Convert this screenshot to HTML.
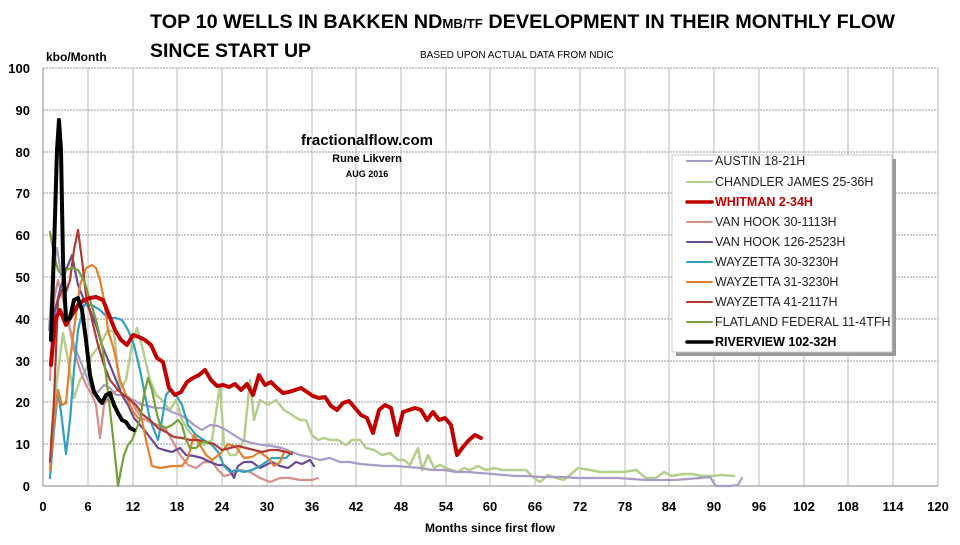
<!DOCTYPE html>
<html><head><meta charset="utf-8"><style>
body{margin:0;background:#fff;width:960px;height:540px;overflow:hidden;font-family:"Liberation Sans",sans-serif}
</style></head><body>
<svg width="960" height="540" xmlns="http://www.w3.org/2000/svg" font-family="Liberation Sans, sans-serif">
<text x="150" y="28" font-size="19.5" font-weight="bold" textLength="745" lengthAdjust="spacingAndGlyphs">TOP 10 WELLS IN BAKKEN ND<tspan font-size="13">MB/TF</tspan> DEVELOPMENT IN THEIR MONTHLY FLOW</text>
<text x="150" y="57" font-size="19.5" font-weight="bold">SINCE START UP</text>
<text x="420" y="58" font-size="10">BASED UPON ACTUAL DATA FROM  NDIC</text>
<text x="46" y="61" font-size="12" font-weight="bold">kbo/Month</text>
<g stroke="#bbb" stroke-width="1">
<line x1="88" y1="68" x2="88" y2="486"/><line x1="133" y1="68" x2="133" y2="486"/><line x1="177" y1="68" x2="177" y2="486"/><line x1="222" y1="68" x2="222" y2="486"/><line x1="267" y1="68" x2="267" y2="486"/><line x1="312" y1="68" x2="312" y2="486"/><line x1="356" y1="68" x2="356" y2="486"/><line x1="401" y1="68" x2="401" y2="486"/><line x1="446" y1="68" x2="446" y2="486"/><line x1="490" y1="68" x2="490" y2="486"/><line x1="535" y1="68" x2="535" y2="486"/><line x1="580" y1="68" x2="580" y2="486"/><line x1="625" y1="68" x2="625" y2="486"/><line x1="669" y1="68" x2="669" y2="486"/><line x1="714" y1="68" x2="714" y2="486"/><line x1="759" y1="68" x2="759" y2="486"/><line x1="804" y1="68" x2="804" y2="486"/><line x1="848" y1="68" x2="848" y2="486"/><line x1="893" y1="68" x2="893" y2="486"/><line x1="938" y1="68" x2="938" y2="486"/>
</g>
<g stroke="#999" stroke-width="1" stroke-dasharray="2,1">
<line x1="43" y1="68" x2="938" y2="68"/><line x1="43" y1="110" x2="938" y2="110"/><line x1="43" y1="152" x2="938" y2="152"/><line x1="43" y1="193" x2="938" y2="193"/><line x1="43" y1="235" x2="938" y2="235"/><line x1="43" y1="277" x2="938" y2="277"/><line x1="43" y1="319" x2="938" y2="319"/><line x1="43" y1="361" x2="938" y2="361"/><line x1="43" y1="402" x2="938" y2="402"/><line x1="43" y1="444" x2="938" y2="444"/>
</g>
<line x1="43" y1="68" x2="43" y2="486" stroke="#888"/><line x1="43" y1="486" x2="938" y2="486" stroke="#888"/>
<g font-size="13" font-weight="bold" text-anchor="end">
<text x="30" y="73">100</text><text x="30" y="115">90</text><text x="30" y="157">80</text><text x="30" y="198">70</text><text x="30" y="240">60</text><text x="30" y="282">50</text><text x="30" y="324">40</text><text x="30" y="366">30</text><text x="30" y="407">20</text><text x="30" y="449">10</text><text x="30" y="491">0</text>
</g>
<g font-size="13" font-weight="bold" text-anchor="middle">
<text x="43" y="511">0</text><text x="88" y="511">6</text><text x="133" y="511">12</text><text x="177" y="511">18</text><text x="222" y="511">24</text><text x="267" y="511">30</text><text x="312" y="511">36</text><text x="356" y="511">42</text><text x="401" y="511">48</text><text x="446" y="511">54</text><text x="490" y="511">60</text><text x="535" y="511">66</text><text x="580" y="511">72</text><text x="625" y="511">78</text><text x="669" y="511">84</text><text x="714" y="511">90</text><text x="759" y="511">96</text><text x="804" y="511">102</text><text x="848" y="511">108</text><text x="893" y="511">114</text><text x="938" y="511">120</text>
</g>
<text x="490" y="532" font-size="12" font-weight="bold" text-anchor="middle">Months since first flow</text>
<text x="367" y="145" font-size="15" font-weight="bold" text-anchor="middle">fractionalflow.com</text>
<text x="367" y="162" font-size="11" font-weight="bold" text-anchor="middle">Rune Likvern</text>
<text x="367" y="177" font-size="9" font-weight="bold" text-anchor="middle">AUG 2016</text>
<g fill="none" stroke-linejoin="round" stroke-linecap="round">
<polyline stroke="#b4cf8c" stroke-width="2.5" points="51,440 57,380 63,333 68,360 74,398 80,380 86,370 92,355 100,345 108,330 114,332 120,390 126,380 132,345 137,328 143,350 150,380 156,395 162,400 170,410 176,400 182,420 188,430 196,440 204,445 212,440 220,385 224,445 230,455 236,455 244,440 250,380 254,420 260,400 268,405 276,400 284,410 292,415 300,420 306,420 312,435 318,440 324,438 330,440 338,440 346,445 352,440 360,440 366,448 374,450 382,455 390,453 398,460 404,460 410,465 418,448 422,470 428,455 434,468 440,465 446,468 452,470 458,472 464,468 470,470 478,466 486,470 494,468 502,470 510,470 518,470 526,470 534,478 540,482 548,475 556,478 564,480 570,475 578,468 590,470 600,472 612,472 624,472 636,470 646,478 656,478 664,472 672,476 682,474 692,474 702,476 712,476 722,475 734,476"/>
<polyline stroke="#a89bc5" stroke-width="2.2" points="49,330 53,270 57,248 62,280 68,320 74,345 80,360 86,375 92,390 98,392 104,385 110,388 116,395 122,395 128,398 134,400 140,404 148,406 156,408 164,408 172,412 180,415 186,418 194,425 202,430 210,425 218,426 226,430 234,435 242,440 252,443 262,445 272,446 282,448 292,452 300,455 310,457 320,460 330,458 340,462 350,462 360,464 372,465 384,466 396,466 408,467 420,468 432,470 444,470 456,472 468,472 480,473 492,474 504,475 516,476 528,476 540,477 552,477 564,477 576,478 590,478 604,478 618,478 632,479 646,480 660,480 674,480 688,479 700,478 710,477 716,486 730,486 738,485 742,478"/>
<polyline stroke="#d98d8b" stroke-width="2.2" points="50,380 54,300 58,280 63,300 68,320 74,350 80,370 86,385 92,395 96,405 100,438 104,405 110,395 118,390 124,395 130,398 136,410 142,418 150,422 158,425 166,430 172,440 180,455 188,465 196,468 204,462 212,462 218,470 224,476 232,474 240,470 250,472 260,478 270,482 280,478 290,478 300,480 312,480 318,478"/>
<polyline stroke="#6b4a94" stroke-width="2.2" points="50,365 55,310 60,290 66,270 72,255 78,285 84,300 90,310 96,325 102,345 108,360 116,380 122,395 128,405 134,418 140,425 146,432 152,440 158,448 164,450 172,452 180,448 186,455 194,456 202,458 210,462 218,465 224,465 230,470 234,478 238,466 244,462 252,462 260,468 266,465 272,462 280,466 288,468 296,462 302,464 310,460 314,466"/>
<polyline stroke="#31a0c0" stroke-width="2.2" points="50,478 54,430 58,390 62,420 66,454 70,420 74,370 78,330 84,305 92,305 100,310 108,318 116,318 122,320 128,330 134,345 140,370 146,400 150,420 154,430 158,440 162,420 166,395 170,390 176,395 182,405 188,425 196,435 204,440 212,445 218,452 224,466 230,472 236,470 244,472 252,470 260,466 266,462 272,458 278,458 286,458 292,452"/>
<polyline stroke="#e6802e" stroke-width="2.2" points="50,470 54,420 58,390 62,405 66,403 70,360 74,330 80,285 86,268 92,265 96,268 100,280 104,300 108,330 114,350 120,380 126,395 132,410 138,418 142,420 146,440 152,466 160,468 172,466 182,466 188,458 194,435 200,445 206,455 212,460 220,454 228,444 236,447 244,458 252,457 260,452 268,458 274,466 280,462 284,452 290,452"/>
<polyline stroke="#b03a32" stroke-width="2.2" points="50,462 54,400 58,300 62,290 66,292 70,280 74,250 78,230 82,260 86,295 92,320 98,345 104,365 110,380 118,390 124,395 130,400 136,405 142,414 150,420 158,428 166,432 174,437 182,438 190,440 198,440 206,442 214,444 222,450 230,448 238,446 246,448 254,450 262,452 270,450 278,450 286,452 292,454"/>
<polyline stroke="#77a03a" stroke-width="2.2" points="50,232 54,255 58,270 62,275 66,270 72,268 78,270 84,280 90,300 96,320 102,345 106,375 110,410 114,446 118,486 121,470 124,455 128,445 132,440 136,430 140,420 144,395 148,378 152,390 156,410 160,425 166,428 172,425 178,420 182,425 186,440 190,448 196,448 202,442 208,442"/>
<polyline stroke="#c00000" stroke-width="4" points="51,365 55,320 60,310 66,325 72,315 78,305 84,300 90,298 96,297 103,300 109,315 115,330 121,340 127,345 133,335 139,337 145,340 151,345 157,358 163,362 169,388 175,395 181,392 187,382 193,378 199,375 205,370 211,380 217,386 223,385 229,387 235,384 241,390 247,384 253,395 259,375 265,385 271,382 277,388 283,393 289,392 295,390 301,388 307,392 313,396 319,398 325,397 331,406 337,410 343,403 349,401 355,408 361,415 367,418 373,433 379,410 385,405 391,408 397,435 403,412 409,410 415,408 421,410 427,420 433,412 439,420 445,418 451,425 457,455 463,447 469,440 475,435 481,438"/>
<polyline stroke="#000" stroke-width="4" points="51,340 54,250 57,150 59,120 61,150 63,260 66,320 70,318 74,300 78,298 82,310 86,340 90,375 94,392 98,398 102,403 106,395 110,393 114,405 118,413 122,420 126,422 130,428 134,430"/>
</g>
<rect x="676" y="159" width="220" height="197" fill="#999"/>
<rect x="672" y="155" width="220" height="197" fill="#fff" stroke="#ccc"/>
<g stroke-linecap="round">
<line x1="687" y1="161" x2="712" y2="161" stroke="#a89bc5" stroke-width="2"/>
<line x1="687" y1="182" x2="712" y2="182" stroke="#b4cf8c" stroke-width="2"/>
<line x1="687" y1="202" x2="712" y2="202" stroke="#c00000" stroke-width="3.5"/>
<line x1="687" y1="222" x2="712" y2="222" stroke="#d98d8b" stroke-width="2"/>
<line x1="687" y1="242" x2="712" y2="242" stroke="#6b4a94" stroke-width="2"/>
<line x1="687" y1="262" x2="712" y2="262" stroke="#31a0c0" stroke-width="2"/>
<line x1="687" y1="282" x2="712" y2="282" stroke="#e6802e" stroke-width="2"/>
<line x1="687" y1="302" x2="712" y2="302" stroke="#b03a32" stroke-width="2"/>
<line x1="687" y1="322" x2="712" y2="322" stroke="#77a03a" stroke-width="2"/>
<line x1="687" y1="342" x2="712" y2="342" stroke="#000" stroke-width="3.5"/>
</g>
<g font-size="12.5" fill="#222">
<text x="715" y="165">AUSTIN 18-21H</text>
<text x="715" y="186">CHANDLER JAMES 25-36H</text>
<text x="715" y="206" fill="#c00000" font-weight="bold">WHITMAN 2-34H</text>
<text x="715" y="226">VAN HOOK 30-1113H</text>
<text x="715" y="246">VAN HOOK 126-2523H</text>
<text x="715" y="266">WAYZETTA 30-3230H</text>
<text x="715" y="286">WAYZETTA 31-3230H</text>
<text x="715" y="306">WAYZETTA 41-2117H</text>
<text x="715" y="326">FLATLAND FEDERAL 11-4TFH</text>
<text x="715" y="346" font-weight="bold" fill="#000">RIVERVIEW 102-32H</text>
</g>
</svg>
</body></html>
